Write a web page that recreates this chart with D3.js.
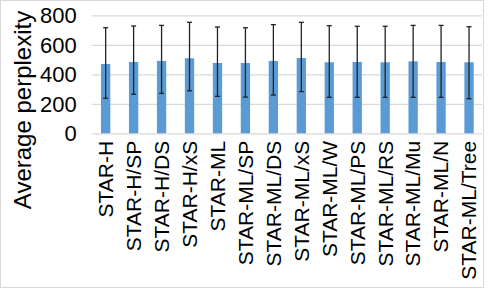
<!DOCTYPE html>
<html><head><meta charset="utf-8">
<script src="https://cdn.jsdelivr.net/npm/d3@7"></script>
<style>body{margin:0;background:#fff}svg{display:block}text{font-family:"Liberation Sans",Arial,Helvetica,sans-serif;fill:#000}</style>
</head><body><svg id="c" width="489" height="291"></svg>
<script>
const categories = ["STAR-H","STAR-H/SP","STAR-H/DS","STAR-H/xS","STAR-ML","STAR-ML/SP","STAR-ML/DS","STAR-ML/xS","STAR-ML/W","STAR-ML/PS","STAR-ML/RS","STAR-ML/Mu","STAR-ML/N","STAR-ML/Tree"];
const means = [473, 487, 494, 512, 480, 480, 494, 514, 485, 487, 485, 491, 487, 485];
const upper = [719, 731, 735, 756, 724, 719, 740, 756, 733, 729, 729, 735, 735, 726];
const lower = [241, 268, 274, 292, 254, 249, 263, 286, 247, 247, 247, 247, 247, 238];
const yTicks = [0, 200, 400, 600, 800];
const yTitle = "Average perplexity";

const svg = d3.select("#c");
svg.append("rect").attr("x",0.5).attr("y",0.5).attr("width",483).attr("height",287)
  .attr("fill","#fff").attr("stroke","#d9d9d9");

const x = d3.scaleBand().domain(categories).range([91.7, 483]).paddingInner(0.667).paddingOuter(0.333);
const y = d3.scaleLinear().domain([0,800]).range([133.8, 15.8]);

// gridlines
svg.append("g").selectAll("line").data(yTicks.filter(d=>d>0)).join("line")
  .attr("x1",91.7).attr("x2",482).attr("y1",d=>y(d)).attr("y2",d=>y(d))
  .attr("stroke","#d9d9d9").attr("stroke-width",1.2);

// y axis
const ya = svg.append("g").attr("transform","translate(91.7,0)")
  .call(d3.axisLeft(y).tickValues(yTicks).tickSize(0).tickPadding(15));
ya.select(".domain").remove();
ya.selectAll("text").attr("font-size",22).attr("font-family","Liberation Sans, Arial, sans-serif").attr("fill","#000");

// bars
svg.append("g").selectAll("rect").data(categories).join("rect")
  .attr("x",d=>x(d)).attr("width",x.bandwidth())
  .attr("y",(d,i)=>y(means[i])).attr("height",(d,i)=>y(0)-y(means[i]))
  .attr("fill","#5b9bd5");

// baseline
svg.append("line").attr("x1",91.7).attr("x2",482).attr("y1",y(0)).attr("y2",y(0))
  .attr("stroke","#d9d9d9").attr("stroke-width",1.2);

// error bars
const eb = svg.append("g").attr("stroke","#222").attr("stroke-width",1.3);
categories.forEach((c,i)=>{
  const cx = x(c)+x.bandwidth()/2;
  eb.append("line").attr("x1",cx).attr("x2",cx).attr("y1",y(upper[i])).attr("y2",y(lower[i]));
  eb.append("line").attr("x1",cx-2.5).attr("x2",cx+2.5).attr("y1",y(upper[i])).attr("y2",y(upper[i]));
  eb.append("line").attr("x1",cx-2.5).attr("x2",cx+2.5).attr("y1",y(lower[i])).attr("y2",y(lower[i]));
});

// x axis labels
const xa = svg.append("g").attr("transform",`translate(0,${y(0)})`)
  .call(d3.axisBottom(x).tickSize(0).tickPadding(0));
xa.select(".domain").remove();
xa.selectAll("text").attr("font-size",21).attr("font-family","Liberation Sans, Arial, sans-serif").attr("fill","#000")
  .attr("text-anchor","end").attr("dy","0.35em")
  .attr("transform","translate(0,7) rotate(-90)").attr("x",0).attr("y",0);

// y title
svg.append("text").attr("transform","translate(31,110) rotate(-90)")
  .attr("text-anchor","middle").attr("font-size",24).text(yTitle);
</script></body></html>
